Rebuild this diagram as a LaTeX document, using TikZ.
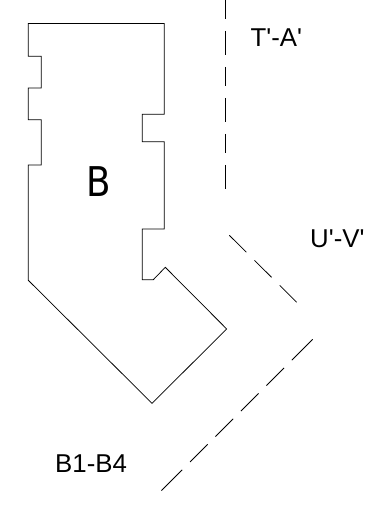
\documentclass[tikz,border=0pt]{standalone}
\usepackage{fontspec}
\setmainfont{Liberation Sans}
\newfontfamily\bigfont{DejaVu Sans}
\tikzset{
  outline/.style={draw, line width=0.75pt, line join=miter},
  cutline/.style={draw, line width=0.75pt},
  cutlabel/.style={inner sep=0pt, font=\fontsize{25.8}{28}\selectfont},
}
\begin{document}
\begin{tikzpicture}[x=1pt, y=-1pt]
  \useasboundingbox (0,0) rectangle (384,510);

  % block
  \draw[outline] (28.3,23.5) -- (164.3,23.5) -- (164.3,114.3) -- (142.3,114.3) -- (142.3,141.7)
    -- (164.3,141.7) -- (164.3,229) -- (142.3,229) -- (142.3,279.7) -- (153.3,279.7)
    -- (165.3,267.3) -- (226.7,329) -- (152,403.3) -- (28.3,280.3) -- (28.3,165)
    -- (41.3,165) -- (41.3,119.7) -- (28.3,119.7) -- (28.3,88) -- (41.3,88)
    -- (41.3,56.3) -- (28.3,56.3) -- cycle;
  \node[inner sep=0pt, font=\bigfont\fontsize{41}{44}\selectfont, xscale=0.87, transform shape] (B) at (99,182) {B};

  % cut lines
  \coordinate (T) at (225,0);
  \coordinate (A) at (225,196.7);
  \coordinate (U) at (229.3,235.3);
  \coordinate (V) at (296.7,302.3);
  \coordinate (B1) at (160.3,491.7);
  \coordinate (B4) at (312.7,339.3);

  \draw[cutline, dash pattern=on 19.5pt off 11.5pt on 24.5pt off 11.5pt] (T) -- (A);
  \draw[cutline, dash pattern=on 24pt off 11.5pt] (U) -- (V);
  \draw[cutline, dash pattern=on 29.5pt off 11pt on 25pt off 11pt on 25pt off 11pt on 25pt off 11pt on 25pt off 11pt on 29.5pt off 11pt] (B4) -- (B1);

  \node[cutlabel, anchor=west] (TA) at (250.5,37.5) {T\textquotesingle-A\textquotesingle};
  \node[cutlabel, anchor=west] (UV) at (310,239) {U\textquotesingle-V\textquotesingle};
  \node[cutlabel, anchor=west] (B14) at (55,464) {B1-B4};
\end{tikzpicture}
\end{document}
